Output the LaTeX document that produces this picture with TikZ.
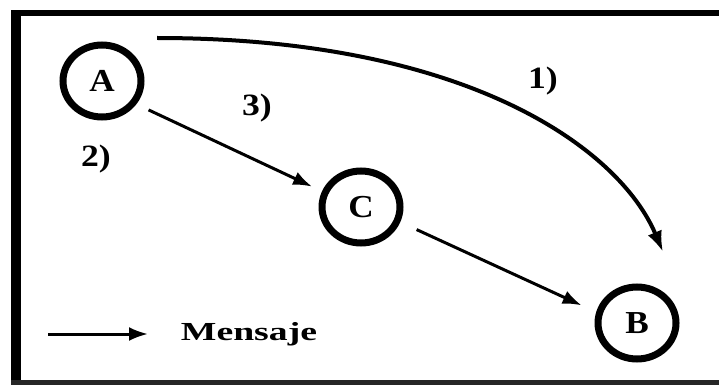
\documentclass[tikz,border=0pt]{standalone}
\usepackage{fontspec}
\usepackage{graphicx}
\setmainfont{Liberation Serif}
\usetikzlibrary{arrows.meta,shapes.geometric}
\tikzset{
  actor/.style={ellipse, draw=black, line width=7pt, minimum width=78pt, minimum height=72pt, inner sep=0pt,
    font=\bfseries\fontsize{32}{32}\selectfont},
  msg/.style={line width=3pt, -{Latex[length=19pt,width=14pt]}},
  longmsg/.style={line width=4pt, -{Latex[length=21pt,width=15pt]}},
  lbl/.style={anchor=base, inner sep=0pt, font=\bfseries\fontsize{31}{31}\selectfont},
}
\begin{document}
\begin{tikzpicture}[x=1pt,y=-1pt]
\useasboundingbox (0,0) rectangle (719,385);
% frame
\fill[white] (0,0) rectangle (719,385);
\fill[black] (11,10) rectangle (21,385);
\fill[black] (11,10) rectangle (719,16);
\fill[black!85] (11,380) rectangle (719,385);
% nodes
\node[actor] (A) at (102,81) {\scalebox{1.1}[1]{A}};
\node[actor] (C) at (361,207) {\scalebox{1.1}[1]{C}};
\node[actor] (B) at (637,323) {\scalebox{1.1}[1]{B}};
% connectors
\coordinate (c1s) at (157,38);
\coordinate (c1e) at (663,252);
\draw[longmsg] (c1s) .. controls (470,38) and (620,150) .. (c1e);
\draw[msg, shorten <=13.5pt, shorten >=11pt] (A.-34) -- (C.158);
\draw[msg, shorten <=18pt, shorten >=16pt] (C.-21) -- (B.165);
% labels
\node[lbl] (l1) at (543,89) {\scalebox{1.15}[1]{1)}};
\node[lbl] (l3) at (257,116) {\scalebox{1.15}[1]{3)}};
\node[lbl] (l2) at (96,166) {\scalebox{1.15}[1]{2)}};
% legend
\coordinate (g0) at (48,334);
\coordinate (g1) at (148,334);
\draw[msg] (g0) -- (g1);
\node[anchor=base, inner sep=0pt, font=\bfseries\fontsize{26}{26}\selectfont] (leg) at (249,340) {\scalebox{1.45}[1]{Mensaje}};
\end{tikzpicture}
\end{document}
